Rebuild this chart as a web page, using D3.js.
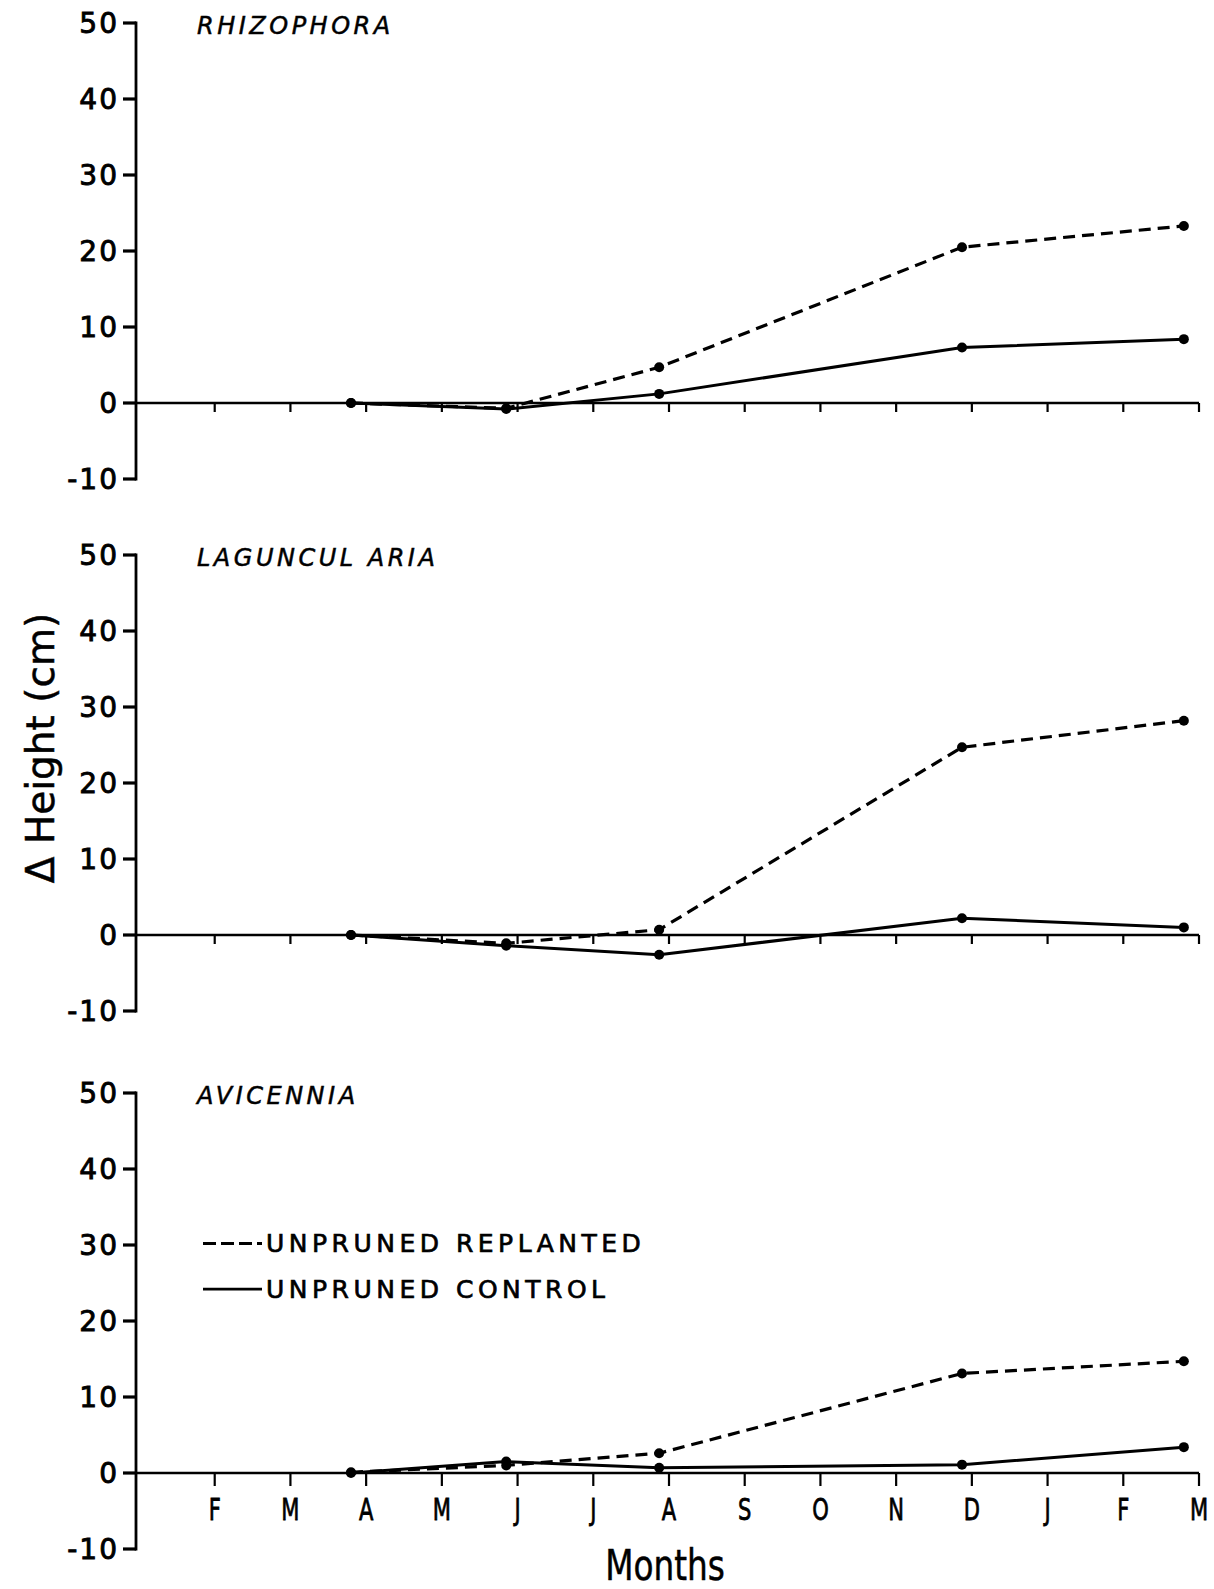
<!DOCTYPE html>
<html>
<head>
<meta charset="utf-8">
<script src="https://cdn.jsdelivr.net/npm/d3@7"></script>
<style>
  body { margin: 0; background: #fff; }
  svg { display: block; }
  .tick-y { font-family: "DejaVu Sans", sans-serif; font-size: 28px; letter-spacing: 2px; stroke: #000; stroke-width: 0.9px; }
  .tick-m { font-family: "DejaVu Sans", sans-serif; font-size: 31px; stroke: #000; stroke-width: 0.8px; }
  .ptitle { font-family: "DejaVu Sans", sans-serif; font-style: italic; font-size: 24px; letter-spacing: 3.5px; stroke: #000; stroke-width: 0.5px; }
  .legend { font-family: "DejaVu Sans", sans-serif; font-size: 25px; letter-spacing: 4.5px; stroke: #000; stroke-width: 0.7px; }
</style>
</head>
<body>
<svg id="chart"></svg>
<script>
// Data
const monthLabels = ["F", "M", "A", "M", "J", "J", "A", "S", "O", "N", "D", "J", "F", "M"];
const sampleMonths = [2.8, 4.85, 6.87, 10.87, 13.8];   // month index, 0 = January
const species = ["RHIZOPHORA", "LAGUNCUL ARIA", "AVICENNIA"];
const replanted = [
  [0, -0.7, 4.7, 20.5, 23.3],
  [0, -1.1, 0.7, 24.7, 28.2],
  [0.1, 1.0, 2.6, 13.1, 14.7]
];
const control = [
  [0, -0.8, 1.2, 7.3, 8.4],
  [0, -1.4, -2.6, 2.2, 1.0],
  [0, 1.5, 0.7, 1.1, 3.4]
];
const yTicks = [-10, 0, 10, 20, 30, 40, 50];

// Sizes
const width = 1214;
const height = 1589;
const axisX = 136;
const panelTops = [23, 555, 1093];
const panelHeight = 456;

const svg = d3.select("#chart")
    .attr("width", width)
    .attr("height", height);

const x = d3.scaleLinear()
    .domain([0, 14])
    .range([139, 1199]);

const line = d3.line()
    .x((d, i) => x(sampleMonths[i]))
    .y(d => d);

species.forEach((name, p) => {
    const y = d3.scaleLinear()
        .domain([-10, 50])
        .range([panelTops[p] + panelHeight, panelTops[p]]);

    const g = svg.append("g");

    // y axis
    g.append("line")
        .attr("x1", axisX).attr("x2", axisX)
        .attr("y1", y(50) - 1.5).attr("y2", y(-10) + 1.5)
        .attr("stroke", "#000").attr("stroke-width", 2.8);
    g.selectAll(".yt")
      .data(yTicks)
      .join("line")
        .attr("x1", axisX - 13).attr("x2", axisX)
        .attr("y1", d => y(d)).attr("y2", d => y(d))
        .attr("stroke", "#000").attr("stroke-width", 3.2);
    g.selectAll(".ylab")
      .data(yTicks)
      .join("text")
        .attr("class", "tick-y")
        .attr("x", 119)
        .attr("y", d => y(d))
        .attr("dy", "0.36em")
        .attr("text-anchor", "end")
        .text(d => d === -10 ? "-10" : d);

    // zero line with month ticks
    g.append("line")
        .attr("x1", axisX).attr("x2", x(14))
        .attr("y1", y(0)).attr("y2", y(0))
        .attr("stroke", "#000").attr("stroke-width", 2.5);
    g.selectAll(".mt")
      .data(d3.range(1, 15))
      .join("line")
        .attr("x1", d => x(d)).attr("x2", d => x(d))
        .attr("y1", y(0)).attr("y2", y(0) + (p === 2 ? 13 : 9))
        .attr("stroke", "#000").attr("stroke-width", 2.2);

    // title
    g.append("text")
        .attr("class", "ptitle")
        .attr("x", 197)
        .attr("y", y(50) + 11)
        .text(name);

    // series
    const toPx = vals => vals.map(v => y(v));
    g.append("path")
        .attr("d", line(toPx(control[p])))
        .attr("fill", "none").attr("stroke", "#000").attr("stroke-width", 3);
    g.append("path")
        .attr("d", line(toPx(replanted[p])))
        .attr("fill", "none").attr("stroke", "#000").attr("stroke-width", 3.2)
        .attr("stroke-dasharray", "12,7");

    [control[p], replanted[p]].forEach(vals => {
        g.selectAll(null)
          .data(vals)
          .join("circle")
            .attr("cx", (d, i) => x(sampleMonths[i]))
            .attr("cy", d => y(d))
            .attr("r", 5)
            .attr("fill", "#000");
    });

    // month labels on bottom panel (condensed letters)
    if (p === 2) {
        g.selectAll(".ml")
          .data(monthLabels)
          .join("text")
            .attr("class", "tick-m")
            .attr("transform", (d, i) => `translate(${x(i + 1)},${y(0) + 47}) scale(0.68,1)`)
            .attr("text-anchor", "middle")
            .text(d => d);

        // legend
        const leg = [
            { label: "UNPRUNED REPLANTED", dash: "13,5", yv: 30.2 },
            { label: "UNPRUNED CONTROL", dash: null, yv: 24.2 }
        ];
        leg.forEach(l => {
            g.append("line")
                .attr("x1", 203).attr("x2", 262)
                .attr("y1", y(l.yv)).attr("y2", y(l.yv))
                .attr("stroke", "#000").attr("stroke-width", 2.8)
                .attr("stroke-dasharray", l.dash);
            g.append("text")
                .attr("class", "legend")
                .attr("x", 266)
                .attr("y", y(l.yv))
                .attr("dy", "0.36em")
                .text(l.label);
        });
    }
});

// axis titles
svg.append("text")
    .attr("transform", "translate(54,748) rotate(-90)")
    .attr("text-anchor", "middle")
    .attr("font-family", "DejaVu Sans, sans-serif")
    .attr("font-size", 39)
    .attr("stroke", "#000").attr("stroke-width", 0.5)
    .text("Δ Height (cm)");

svg.append("text")
    .attr("transform", "translate(665,1580) scale(0.78,1)")
    .attr("text-anchor", "middle")
    .attr("font-family", "DejaVu Sans, sans-serif")
    .attr("font-size", 42)
    .attr("stroke", "#000").attr("stroke-width", 0.5)
    .text("Months");
</script>
</body>
</html>
